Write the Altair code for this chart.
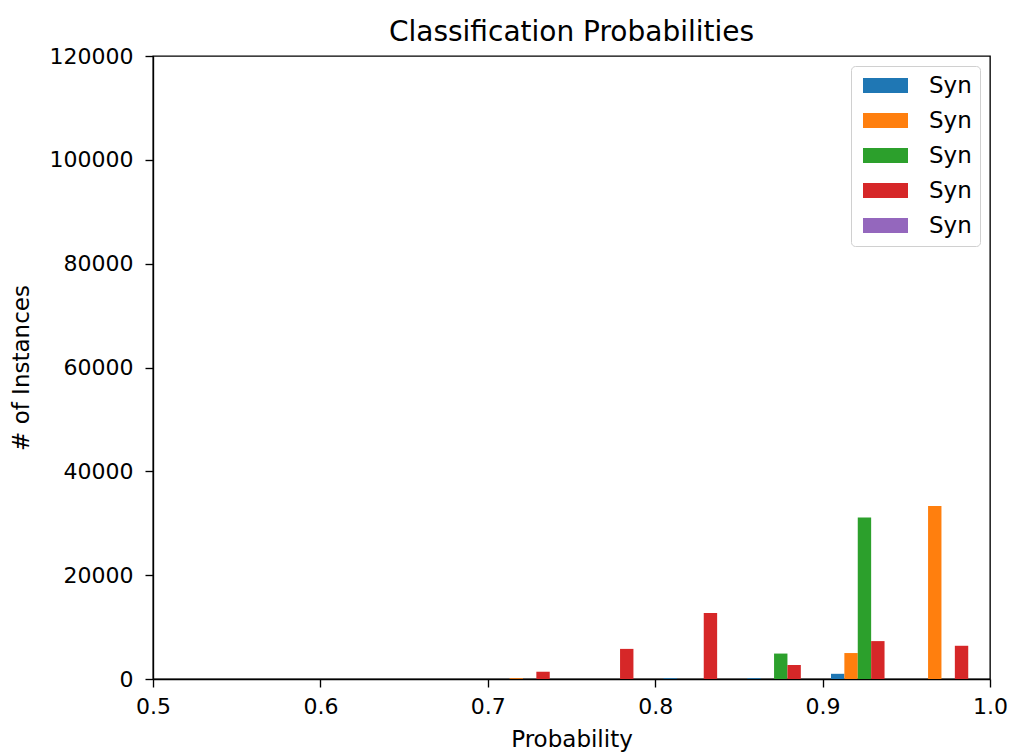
import altair as alt
import pandas as pd

# Histogram bin starts (bin width 0.05)
bin_starts = [0.50, 0.55, 0.60, 0.65, 0.70, 0.75, 0.80, 0.85, 0.90, 0.95]
series_names = ["s0", "s1", "s2", "s3", "s4"]
series_colors = ["#1f77b4", "#ff7f0e", "#2ca02c", "#d62728", "#9467bd"]

s0_counts = [0, 0, 0, 0, 0, 0, 150, 150, 1000, 0]
s1_counts = [0, 0, 0, 0, 150, 0, 0, 0, 5000, 33300]
s2_counts = [0, 0, 0, 0, 0, 0, 0, 4900, 31100, 0]
s3_counts = [0, 0, 0, 0, 1400, 5800, 12700, 2700, 7300, 6400]
s4_counts = [0, 0, 0, 0, 0, 0, 0, 0, 0, 0]

all_counts = [s0_counts, s1_counts, s2_counts, s3_counts, s4_counts]
rows = []
for i, (name, counts) in enumerate(zip(series_names, all_counts)):
    for b, c in zip(bin_starts, counts):
        rows.append({"bin": b, "series": name, "idx": i, "count": c})
df = pd.DataFrame(rows)

FONT = "DejaVu Sans"

bars = alt.Chart(df).transform_calculate(
    x0="datum.bin + 0.005 + datum.idx * 0.008",
    x1="datum.bin + 0.005 + (datum.idx + 1) * 0.008",
).mark_bar(clip=True, strokeWidth=0).encode(
    x=alt.X("x0:Q",
            scale=alt.Scale(domain=[0.5, 1.0], nice=False, zero=False),
            axis=alt.Axis(title="Probability", values=[0.5, 0.6, 0.7, 0.8, 0.9, 1.0],
                          format=".1f", grid=False, tickSize=8, tickWidth=1.35,
                          labelPadding=9, titlePadding=11, domainWidth=1.35,
                          labelFlush=False)),
    x2="x1:Q",
    y=alt.Y("count:Q",
            scale=alt.Scale(domain=[0, 120000], nice=False),
            axis=alt.Axis(title="# of Instances", values=list(range(0, 120001, 20000)),
                          format="d", grid=False, tickSize=8, tickWidth=1.35,
                          labelPadding=12, titlePadding=16, domainWidth=1.35)),
    y2=alt.datum(0),
    color=alt.Color("series:N",
                    scale=alt.Scale(domain=series_names, range=series_colors),
                    legend=alt.Legend(title=None, orient="top-right", offset=10,
                                      labelExpr="'Syn'",
                                      symbolType="M-1,-1H5V1H-1Z",
                                      symbolSize=225, symbolStrokeWidth=0,
                                      labelFontSize=23, labelFont=FONT,
                                      labelColor="black", labelOffset=47,
                                      rowPadding=11, padding=8,
                                      strokeColor="#d0d0d0", cornerRadius=4,
                                      fillColor="white")),
)

chart = bars.properties(
    width=837,
    height=623,
    background="white",
    title=alt.TitleParams("Classification Probabilities", fontSize=28, font=FONT,
                          fontWeight="normal", color="black", offset=-2,
                          anchor="middle"),
    autosize=alt.AutoSizeParams(type="none"),
    padding={"left": 153, "top": 56, "right": 23, "bottom": 74},
).configure_view(
    stroke="black", strokeWidth=1.35
).configure_axis(
    labelFont=FONT, labelFontSize=22, labelColor="black",
    titleFont=FONT, titleFontSize=23, titleColor="black", titleFontWeight="normal",
    domainColor="black", tickColor="black"
)

chart.save("out.html", embed_options={"renderer": "svg", "actions": False})
